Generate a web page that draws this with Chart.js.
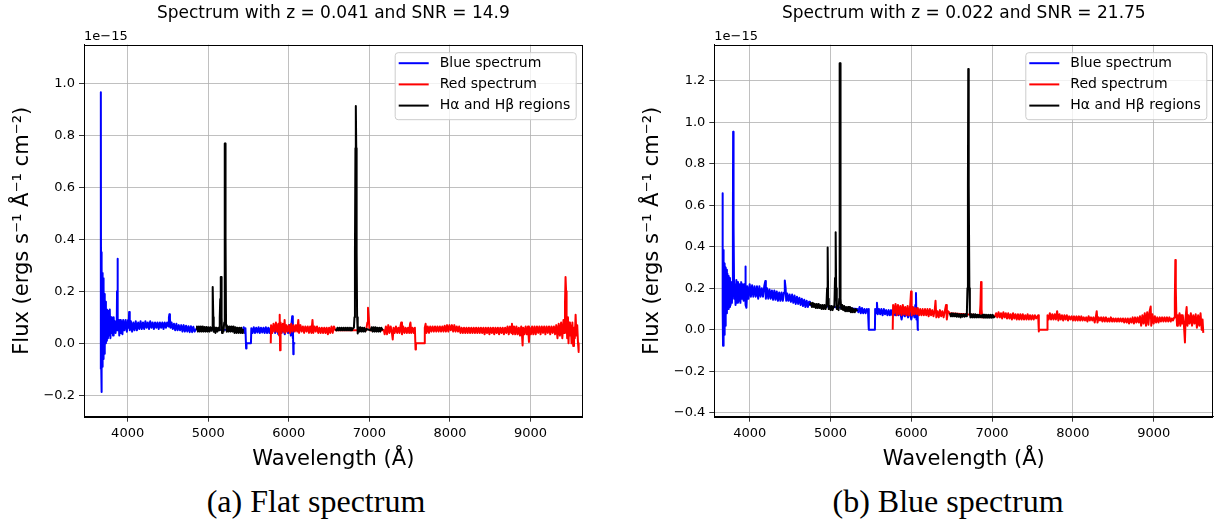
<!DOCTYPE html>
<html><head><meta charset="utf-8">
<script src="https://cdn.jsdelivr.net/npm/chart.js@4.4.1/dist/chart.umd.min.js"></script>
<style>
html,body{margin:0;padding:0;background:#fff;width:1215px;height:521px;overflow:hidden;position:relative;}
#wrapA{position:absolute;left:0;top:0;width:600px;height:480px;}
#wrapB{position:absolute;left:605px;top:0;width:610px;height:480px;}
.cap{position:absolute;top:482px;font-family:'Liberation Serif',serif;font-size:32px;color:#000;white-space:nowrap;transform:translateX(-50%);line-height:38px;}
</style></head><body>
<div id="wrapA"><canvas id="cA" width="600" height="480"></canvas></div>
<div id="wrapB"><canvas id="cB" width="610" height="480"></canvas></div>
<div class="cap" style="left:316px">(a) Flat spectrum</div>
<div class="cap" style="left:948px">(b) Blue spectrum</div>
<script>
// ---------- DATA (flux in units of 1e-15) ----------
const seriesLabels = ['Blue spectrum', 'Red spectrum', 'H\u03b1 and H\u03b2 regions'];
const xTicks = [4000, 5000, 6000, 7000, 8000, 9000];
const yTicksA = [-0.2, 0.0, 0.2, 0.4, 0.6, 0.8, 1.0];
const yTicksB = [-0.4, -0.2, 0.0, 0.2, 0.4, 0.6, 0.8, 1.0, 1.2];
const titleA = 'Spectrum with z = 0.041 and SNR = 14.9';
const titleB = 'Spectrum with z = 0.022 and SNR = 21.75';

const blueA = [[3664,-0.1],[3667,0.965],[3670,-0.05],[3673,0.35],[3677,-0.187],[3680,0.3],[3683,-0.09],[3687,0.27],[3691,-0.07],[3695,0.25],[3699,-0.06],[3703,0.22],[3708,-0.04],[3713,0.19],[3718,-0.02],[3724,0.16],[3730,0.0],[3736,0.13],[3742,0.01],[3748,0.125],[3755,0.02],[3762,0.11],[3770,0.03],[3778,0.13],[3786,0.02],[3794,0.1],[3802,0.04],[3810,0.09],[3818,0.03],[3826,0.1],[3834,0.05],[3842,0.085],[3850,0.04],[3858,0.08],[3864,0.05],[3868,0.2],[3872,0.325],[3876,0.2],[3880,0.05],[3888,0.09],[3896,0.03],[3905,0.09],[3915,0.04],[3925,0.085],[3935,0.035],[3945,0.09],[3960,0.05],[3975,0.09],[3990,0.045],[4005,0.09],[4012,0.06],[4018,0.12],[4026,0.05],[4040,0.085],[4055,0.045],[4070,0.08],[4085,0.05],[4100,0.085],[4115,0.05],[4130,0.08],[4145,0.055],[4160,0.085],[4175,0.055],[4190,0.08],[4205,0.055],[4220,0.085],[4235,0.06],[4250,0.08],[4265,0.055],[4280,0.085],[4295,0.06],[4310,0.08],[4325,0.055],[4340,0.08],[4355,0.06],[4370,0.08],[4385,0.055],[4400,0.08],[4415,0.06],[4430,0.08],[4445,0.055],[4460,0.08],[4475,0.06],[4490,0.08],[4505,0.065],[4512,0.1],[4518,0.112],[4525,0.095],[4532,0.06],[4545,0.08],[4560,0.055],[4575,0.075],[4590,0.05],[4605,0.075],[4620,0.05],[4635,0.07],[4650,0.05],[4665,0.07],[4680,0.045],[4695,0.07],[4710,0.045],[4725,0.068],[4740,0.045],[4755,0.066],[4770,0.043],[4785,0.066],[4800,0.043],[4815,0.064],[4830,0.045],[4850,0.055],[5430,0.05],[5440,0.062],[5452,0.04],[5462,0.058],[5470,-0.02],[5475,0.0],[5530,0.0],[5535,0.058],[5550,0.04],[5565,0.062],[5580,0.04],[5595,0.06],[5610,0.042],[5625,0.062],[5640,0.04],[5655,0.06],[5670,0.042],[5685,0.06],[5700,0.04],[5715,0.062],[5730,0.04],[5745,0.06],[5760,0.04],[5775,0.06],[5790,0.04],[5810,0.065],[5830,0.04],[5850,0.06],[5870,0.035],[5890,0.065],[5910,0.04],[5930,0.06],[5950,0.035],[5970,0.065],[5990,0.04],[6010,0.07],[6025,0.03],[6035,0.08],[6042,0.104],[6048,0.02],[6052,0.09],[6056,-0.042],[6060,0.0],[6080,0.0]];

const redA = [[5776,0.0],[5780,0.07],[5795,0.04],[5810,0.075],[5825,0.045],[5840,0.08],[5855,0.045],[5870,0.075],[5880,0.03],[5887,0.11],[5892,-0.027],[5898,0.08],[5910,0.04],[5925,0.075],[5940,0.045],[5948,0.09],[5956,0.04],[5970,0.07],[5985,0.045],[6000,0.07],[6015,0.04],[6030,0.075],[6045,0.045],[6060,0.07],[6075,0.045],[6090,0.07],[6105,0.045],[6118,0.09],[6128,0.04],[6145,0.07],[6160,0.045],[6175,0.065],[6190,0.04],[6205,0.065],[6220,0.045],[6235,0.065],[6250,0.04],[6265,0.065],[6280,0.04],[6294,0.09],[6305,0.04],[6320,0.065],[6335,0.045],[6350,0.065],[6365,0.04],[6380,0.06],[6395,0.04],[6410,0.06],[6425,0.04],[6440,0.06],[6455,0.04],[6470,0.06],[6485,0.035],[6500,0.06],[6515,0.04],[6530,0.065],[6545,0.04],[6560,0.065],[6580,0.05],[6960,0.05],[6975,0.08],[6983,0.137],[6992,0.1],[7000,0.06],[7010,0.05],[7180,0.05],[7190,0.035],[7205,0.065],[7220,0.035],[7235,0.07],[7250,0.04],[7265,0.065],[7280,0.04],[7290,0.015],[7300,0.06],[7315,0.04],[7330,0.065],[7345,0.04],[7360,0.06],[7375,0.04],[7388,0.07],[7395,0.08],[7405,0.035],[7420,0.065],[7435,0.04],[7450,0.06],[7465,0.04],[7480,0.06],[7495,0.04],[7505,0.075],[7510,0.08],[7520,0.04],[7535,0.06],[7550,0.04],[7565,0.06],[7573,-0.024],[7578,0.0],[7684,0.0],[7688,0.06],[7698,0.075],[7710,0.04],[7725,0.065],[7740,0.04],[7755,0.065],[7770,0.045],[7785,0.065],[7800,0.045],[7815,0.065],[7830,0.045],[7845,0.065],[7860,0.045],[7875,0.065],[7890,0.045],[7905,0.065],[7920,0.045],[7935,0.068],[7950,0.045],[7965,0.07],[7980,0.045],[7995,0.07],[8010,0.05],[8025,0.07],[8040,0.045],[8055,0.07],[8070,0.045],[8085,0.065],[8100,0.045],[8115,0.065],[8130,0.04],[8145,0.06],[8160,0.04],[8175,0.06],[8190,0.04],[8205,0.06],[8220,0.04],[8235,0.06],[8250,0.04],[8265,0.06],[8280,0.04],[8295,0.06],[8310,0.04],[8325,0.06],[8340,0.04],[8355,0.06],[8370,0.04],[8385,0.06],[8400,0.04],[8415,0.06],[8430,0.035],[8445,0.06],[8460,0.04],[8475,0.06],[8490,0.035],[8505,0.06],[8520,0.04],[8535,0.06],[8550,0.035],[8565,0.06],[8580,0.04],[8595,0.06],[8610,0.035],[8625,0.06],[8640,0.04],[8655,0.06],[8670,0.035],[8685,0.06],[8700,0.04],[8715,0.065],[8730,0.035],[8745,0.065],[8760,0.04],[8770,0.075],[8780,0.035],[8795,0.065],[8810,0.035],[8825,0.065],[8840,0.035],[8855,0.06],[8870,0.03],[8885,0.065],[8895,0.03],[8902,-0.008],[8910,0.06],[8925,0.035],[8940,0.065],[8955,0.035],[8970,0.065],[8981,0.005],[8990,0.06],[9005,0.035],[9020,0.065],[9035,0.035],[9050,0.065],[9065,0.035],[9080,0.065],[9095,0.04],[9110,0.065],[9125,0.035],[9140,0.065],[9155,0.04],[9170,0.065],[9185,0.035],[9200,0.065],[9215,0.04],[9230,0.065],[9245,0.035],[9260,0.065],[9275,0.04],[9290,0.065],[9305,0.035],[9320,0.07],[9335,0.02],[9350,0.075],[9365,0.03],[9380,0.08],[9395,0.02],[9410,0.09],[9420,0.04],[9428,0.15],[9435,0.255],[9442,0.2],[9448,0.1],[9455,0.02],[9465,0.1],[9472,0.0],[9480,0.08],[9490,0.03],[9500,0.07],[9510,0.0],[9520,0.08],[9530,-0.01],[9540,0.06],[9550,0.02],[9560,0.11],[9570,0.03],[9580,0.07],[9590,0.0],[9598,-0.033]];

const lineA = [[4850,0.055],[4860,0.065],[4872,0.045],[4884,0.065],[4896,0.045],[4908,0.065],[4920,0.045],[4932,0.065],[4944,0.045],[4956,0.063],[4968,0.045],[4980,0.063],[4992,0.045],[5004,0.062],[5016,0.045],[5028,0.062],[5040,0.048],[5048,0.06],[5052,0.12],[5055,0.217],[5059,0.217],[5063,0.1],[5068,0.045],[5078,0.062],[5090,0.04],[5102,0.06],[5114,0.045],[5126,0.06],[5136,0.05],[5143,0.1],[5149,0.17],[5154,0.12],[5157,0.255],[5161,0.255],[5166,0.1],[5171,0.04],[5180,0.06],[5190,0.045],[5198,0.08],[5203,0.4],[5207,0.768],[5211,0.768],[5215,0.4],[5221,0.07],[5230,0.045],[5242,0.065],[5254,0.045],[5266,0.065],[5278,0.045],[5290,0.065],[5302,0.045],[5314,0.065],[5326,0.04],[5338,0.062],[5350,0.04],[5362,0.06],[5374,0.04],[5386,0.06],[5398,0.04],[5410,0.06],[5420,0.04],[5430,0.055],[5431,null],[6580,0.055],[6592,0.05],[6604,0.06],[6616,0.05],[6628,0.06],[6640,0.05],[6652,0.06],[6664,0.05],[6676,0.06],[6688,0.05],[6700,0.06],[6712,0.05],[6724,0.06],[6736,0.05],[6748,0.06],[6760,0.05],[6772,0.06],[6784,0.05],[6796,0.058],[6808,0.06],[6815,0.1],[6821,0.35],[6827,0.75],[6830,0.912],[6834,0.912],[6837,0.75],[6842,0.35],[6848,0.1],[6853,0.06],[6858,0.038],[6865,0.062],[6876,0.045],[6888,0.062],[6900,0.045],[6912,0.06],[6924,0.045],[6936,0.06],[6948,0.045],[6960,0.055],[7015,0.05],[7028,0.062],[7040,0.045],[7052,0.062],[7064,0.045],[7076,0.062],[7088,0.045],[7100,0.06],[7112,0.045],[7124,0.06],[7136,0.045],[7148,0.06],[7168,0.05]];

const blueB = [[3662,0.1],[3664,0.659],[3667,0.1],[3670,-0.077],[3673,0.385],[3677,0.0],[3681,0.33],[3685,-0.024],[3690,0.32],[3695,0.02],[3700,0.3],[3706,0.06],[3712,0.29],[3718,0.08],[3725,0.27],[3732,0.1],[3740,0.26],[3748,0.11],[3756,0.25],[3764,0.12],[3772,0.23],[3780,0.13],[3787,0.2],[3792,0.5],[3795,0.955],[3799,0.955],[3802,0.5],[3808,0.15],[3815,0.22],[3825,0.12],[3835,0.24],[3845,0.13],[3855,0.23],[3865,0.14],[3875,0.22],[3885,0.13],[3895,0.23],[3905,0.15],[3915,0.22],[3925,0.14],[3935,0.22],[3942,0.2],[3946,0.305],[3952,0.12],[3960,0.106],[3970,0.21],[3985,0.15],[4000,0.22],[4015,0.16],[4030,0.215],[4045,0.16],[4060,0.21],[4075,0.16],[4090,0.21],[4105,0.15],[4120,0.21],[4135,0.16],[4150,0.2],[4165,0.16],[4180,0.21],[4193,0.235],[4200,0.15],[4215,0.2],[4230,0.15],[4245,0.195],[4260,0.15],[4275,0.19],[4290,0.145],[4305,0.19],[4320,0.145],[4335,0.185],[4350,0.14],[4365,0.18],[4380,0.14],[4395,0.18],[4410,0.14],[4425,0.18],[4432,0.2],[4437,0.238],[4445,0.2],[4452,0.14],[4465,0.175],[4480,0.14],[4495,0.17],[4510,0.135],[4525,0.17],[4540,0.13],[4555,0.165],[4570,0.125],[4585,0.16],[4600,0.125],[4615,0.155],[4630,0.12],[4645,0.15],[4660,0.115],[4675,0.145],[4690,0.11],[4705,0.14],[4720,0.11],[4735,0.135],[4746,0.12],[5332,0.1],[5345,0.085],[5360,0.11],[5375,0.08],[5390,0.105],[5405,0.08],[5420,0.1],[5435,0.08],[5450,0.1],[5465,0.085],[5472,0.1],[5476,0.0],[5550,0.0],[5553,0.1],[5565,0.08],[5575,0.13],[5585,0.075],[5600,0.1],[5615,0.075],[5630,0.1],[5645,0.07],[5660,0.1],[5675,0.075],[5690,0.095],[5705,0.07],[5720,0.095],[5735,0.07],[5750,0.095],[5765,0.07],[5780,0.095],[5800,0.07],[5820,0.095],[5840,0.07],[5860,0.09],[5880,0.05],[5900,0.09],[5920,0.065],[5940,0.09],[5960,0.06],[5980,0.09],[6000,0.05],[6020,0.09],[6040,0.06],[6050,0.12],[6058,0.177],[6064,0.05],[6072,0.1],[6080,0.0],[6095,0.0]];

const redB = [[5770,0.0],[5775,0.12],[5790,0.08],[5805,0.125],[5820,0.07],[5835,0.12],[5850,0.075],[5865,0.115],[5880,0.07],[5895,0.12],[5910,0.075],[5925,0.11],[5940,0.07],[5955,0.115],[5970,0.07],[5985,0.11],[5997,0.185],[6005,0.07],[6020,0.11],[6035,0.075],[6050,0.105],[6065,0.075],[6080,0.105],[6095,0.07],[6110,0.1],[6125,0.07],[6140,0.1],[6155,0.07],[6170,0.1],[6185,0.07],[6200,0.1],[6215,0.065],[6230,0.1],[6245,0.07],[6260,0.095],[6275,0.065],[6290,0.095],[6300,0.14],[6310,0.06],[6325,0.09],[6340,0.06],[6355,0.095],[6370,0.065],[6385,0.09],[6400,0.06],[6415,0.09],[6430,0.12],[6440,0.05],[6455,0.09],[6477,0.08],[6848,0.07],[6856,0.12],[6863,0.23],[6870,0.1],[6878,0.06],[7036,0.065],[7050,0.08],[7065,0.06],[7080,0.085],[7095,0.06],[7110,0.08],[7125,0.055],[7140,0.085],[7155,0.06],[7170,0.08],[7185,0.055],[7200,0.08],[7215,0.055],[7230,0.075],[7245,0.05],[7260,0.08],[7275,0.055],[7290,0.075],[7305,0.05],[7320,0.075],[7335,0.05],[7350,0.075],[7365,0.05],[7380,0.075],[7395,0.05],[7410,0.07],[7425,0.05],[7440,0.075],[7455,0.05],[7470,0.07],[7485,0.05],[7500,0.07],[7515,0.05],[7530,0.07],[7545,0.055],[7570,0.07],[7577,-0.008],[7580,0.0],[7683,0.0],[7686,0.07],[7700,0.05],[7715,0.08],[7730,0.05],[7745,0.075],[7760,0.05],[7775,0.075],[7790,0.05],[7805,0.09],[7820,0.045],[7835,0.075],[7850,0.05],[7865,0.07],[7880,0.045],[7895,0.07],[7910,0.05],[7925,0.07],[7940,0.045],[7955,0.065],[7970,0.05],[7985,0.065],[8000,0.045],[8015,0.065],[8030,0.045],[8045,0.065],[8060,0.045],[8075,0.065],[8090,0.045],[8105,0.065],[8120,0.045],[8135,0.06],[8150,0.045],[8165,0.06],[8180,0.04],[8195,0.065],[8210,0.045],[8225,0.06],[8240,0.045],[8255,0.06],[8270,0.035],[8285,0.065],[8295,0.09],[8305,0.035],[8320,0.06],[8335,0.045],[8350,0.06],[8365,0.04],[8380,0.06],[8395,0.04],[8410,0.06],[8425,0.04],[8440,0.055],[8455,0.04],[8470,0.06],[8485,0.04],[8500,0.055],[8515,0.04],[8530,0.055],[8545,0.04],[8560,0.055],[8575,0.04],[8590,0.055],[8605,0.04],[8620,0.055],[8635,0.035],[8650,0.055],[8665,0.035],[8680,0.055],[8695,0.03],[8710,0.055],[8725,0.035],[8740,0.06],[8755,0.03],[8770,0.06],[8785,0.035],[8800,0.06],[8815,0.035],[8830,0.065],[8845,0.02],[8860,0.07],[8875,0.03],[8890,0.08],[8905,0.02],[8920,0.085],[8935,0.025],[8950,0.09],[8963,0.112],[8970,0.02],[8985,0.075],[9000,0.03],[9015,0.065],[9030,0.035],[9045,0.06],[9060,0.035],[9075,0.06],[9090,0.04],[9105,0.06],[9120,0.04],[9135,0.06],[9150,0.04],[9165,0.06],[9180,0.04],[9195,0.06],[9210,0.04],[9225,0.055],[9240,0.045],[9255,0.06],[9262,0.15],[9268,0.337],[9274,0.2],[9280,0.08],[9290,0.02],[9300,0.07],[9310,0.03],[9320,0.08],[9330,0.02],[9340,0.07],[9350,0.03],[9360,0.07],[9375,0.02],[9387,-0.061],[9395,0.06],[9408,0.11],[9418,0.02],[9430,0.07],[9445,0.03],[9460,0.08],[9475,0.02],[9490,0.07],[9505,0.03],[9520,0.075],[9535,0.01],[9550,0.07],[9565,0.02],[9580,0.08],[9595,0.0],[9605,0.05],[9614,-0.015]];

const lineB = [[4746,0.12],[4758,0.13],[4770,0.11],[4782,0.13],[4794,0.11],[4806,0.125],[4818,0.105],[4830,0.125],[4842,0.105],[4854,0.125],[4866,0.105],[4878,0.12],[4890,0.1],[4902,0.12],[4914,0.1],[4926,0.12],[4938,0.1],[4950,0.115],[4958,0.2],[4965,0.397],[4971,0.15],[4978,0.1],[4990,0.115],[5002,0.095],[5014,0.115],[5026,0.095],[5038,0.113],[5048,0.11],[5056,0.25],[5064,0.47],[5070,0.2],[5078,0.1],[5090,0.115],[5100,0.095],[5108,0.15],[5112,0.7],[5115,1.285],[5119,1.285],[5122,0.7],[5127,0.15],[5133,0.1],[5145,0.12],[5157,0.095],[5169,0.115],[5181,0.09],[5193,0.11],[5205,0.09],[5217,0.11],[5229,0.09],[5241,0.11],[5253,0.085],[5265,0.105],[5277,0.085],[5289,0.1],[5301,0.085],[5313,0.1],[5332,0.09],[5333,null],[6477,0.08],[6490,0.065],[6502,0.08],[6514,0.065],[6526,0.078],[6538,0.065],[6550,0.078],[6562,0.063],[6574,0.077],[6586,0.063],[6598,0.075],[6610,0.06],[6622,0.075],[6634,0.063],[6646,0.075],[6658,0.063],[6670,0.075],[6680,0.065],[6688,0.08],[6695,0.2],[6701,0.7],[6705,1.258],[6709,1.258],[6713,0.7],[6719,0.2],[6725,0.08],[6732,0.06],[6744,0.075],[6756,0.06],[6768,0.075],[6780,0.06],[6792,0.075],[6804,0.06],[6816,0.073],[6828,0.06],[6840,0.072],[6852,0.06],[6864,0.07],[6876,0.06],[6888,0.073],[6900,0.058],[6912,0.073],[6924,0.058],[6936,0.072],[6948,0.058],[6960,0.072],[6972,0.058],[6984,0.072],[6996,0.058],[7008,0.072],[7020,0.06],[7036,0.065]];

// ---------- RENDERING ----------
const FONT = '"DejaVu Sans", sans-serif';
const colors = ['#0000ff', '#ff0000', '#000000'];
const fmtY = v => (Math.abs(v) < 1e-9 ? '0.0' : v.toFixed(1)).replace('-', '\u2212');

function makeChart(canvasId, o) {
  const toPts = arr => arr.map(p => ({x: p[0], y: p[1]}));
  const series = [o.blue, o.red, o.line];
  const decor = {
    id: 'decor',
    afterDraw(chart) {
      const ctx = chart.ctx, a = chart.chartArea;
      ctx.save();
      ctx.strokeStyle = '#000'; ctx.lineWidth = 1;
      ctx.strokeRect(Math.round(a.left) + 0.5, Math.round(a.top) + 0.5, Math.round(a.right - a.left) - 1, Math.round(a.bottom - a.top));
      ctx.fillStyle = '#000';
      ctx.font = '17px ' + FONT;
      ctx.textAlign = 'center'; ctx.textBaseline = 'middle';
      ctx.fillText(o.title, (a.left + a.right) / 2, 14);
      ctx.font = '13px ' + FONT;
      ctx.textAlign = 'left'; ctx.textBaseline = 'alphabetic';
      ctx.fillText('1e\u221215', a.left, a.top - 5);
      const bw = 181, bh = 67;
      const bx = a.right - o.legRight - bw, by = a.top + 7.5;
      ctx.beginPath();
      ctx.roundRect(bx + 0.5, by + 0.5, bw, bh, 3);
      ctx.fillStyle = 'rgba(255,255,255,0.8)';
      ctx.fill();
      ctx.strokeStyle = '#cccccc'; ctx.lineWidth = 1;
      ctx.stroke();
      ctx.font = '14px ' + FONT;
      ctx.textBaseline = 'middle';
      chart.data.datasets.forEach((ds, i) => {
        const yy = by + 11 + i * 21.2;
        ctx.strokeStyle = ds.borderColor; ctx.lineWidth = 2;
        ctx.beginPath(); ctx.moveTo(bx + 4, yy); ctx.lineTo(bx + 34, yy); ctx.stroke();
        ctx.fillStyle = '#000';
        ctx.fillText(ds.label, bx + 45, yy);
      });
      ctx.restore();
    }
  };
  return new Chart(document.getElementById(canvasId), {
    type: 'line',
    data: {
      datasets: series.map((s, i) => ({
        label: seriesLabels[i],
        data: toPts(s),
        borderColor: colors[i],
        backgroundColor: colors[i],
        borderWidth: 2,
        pointRadius: 0,
        fill: false,
        tension: 0,
        spanGaps: false,
        borderJoinStyle: 'round',
        order: 3 - i
      }))
    },
    options: {
      responsive: false,
      animation: false,
      events: [],
      layout: {padding: {top: 44.7, right: o.padRight, left: 0, bottom: 0}},
      plugins: {legend: {display: false}, tooltip: {enabled: false}, title: {display: false}},
      scales: {
        x: {
          type: 'linear',
          min: o.xmin, max: o.xmax,
          afterBuildTicks: s => { s.ticks = xTicks.map(v => ({value: v})); },
          afterFit: s => { s.height = 480 - 416.7; },
          grid: {color: '#b0b0b0', lineWidth: 0.8, tickColor: '#000', tickLength: 5, drawTicks: true},
          border: {display: true, color: '#000', width: 1},
          ticks: {font: {family: FONT, size: 13}, color: '#000', padding: 4, maxRotation: 0, autoSkip: false,
                  callback: v => String(v)},
          title: {display: true, text: 'Wavelength (\u00c5)', font: {family: FONT, size: 21}, color: '#000',
                  padding: {top: 0, bottom: 8}}
        },
        y: {
          type: 'linear',
          min: o.ymin, max: o.ymax,
          afterBuildTicks: s => { s.ticks = o.yTicks.map(v => ({value: v})); },
          afterFit: s => { s.width = o.yWidth; },
          grid: {color: '#b0b0b0', lineWidth: 0.8, tickColor: '#000', tickLength: 5, drawTicks: true},
          border: {display: true, color: '#000', width: 1},
          ticks: {font: {family: FONT, size: 13}, color: '#000', padding: 4, autoSkip: false,
                  callback: v => fmtY(v)},
          title: {display: true, text: 'Flux (ergs s\u207b\u00b9 \u00c5\u207b\u00b9 cm\u207b\u00b2)',
                  font: {family: FONT, size: 21}, color: '#000', padding: {top: o.yTitlePad, bottom: 0}}
        }
      }
    },
    plugins: [decor]
  });
}

makeChart('cA', {blue: blueA, red: redA, line: lineA, title: titleA, yTicks: yTicksA,
  xmin: 3458, xmax: 9648, ymin: -0.282, ymax: 1.148, yWidth: 84, padRight: 600 - 582.7, yTitlePad: 10, legRight: 7});
makeChart('cB', {blue: blueB, red: redB, line: lineB, title: titleB, yTicks: yTicksB,
  xmin: 3562, xmax: 9738, ymin: -0.419, ymax: 1.375, yWidth: 109.3, padRight: 610 - 608.3, yTitlePad: 35, legRight: 7});
</script>
</body></html>
